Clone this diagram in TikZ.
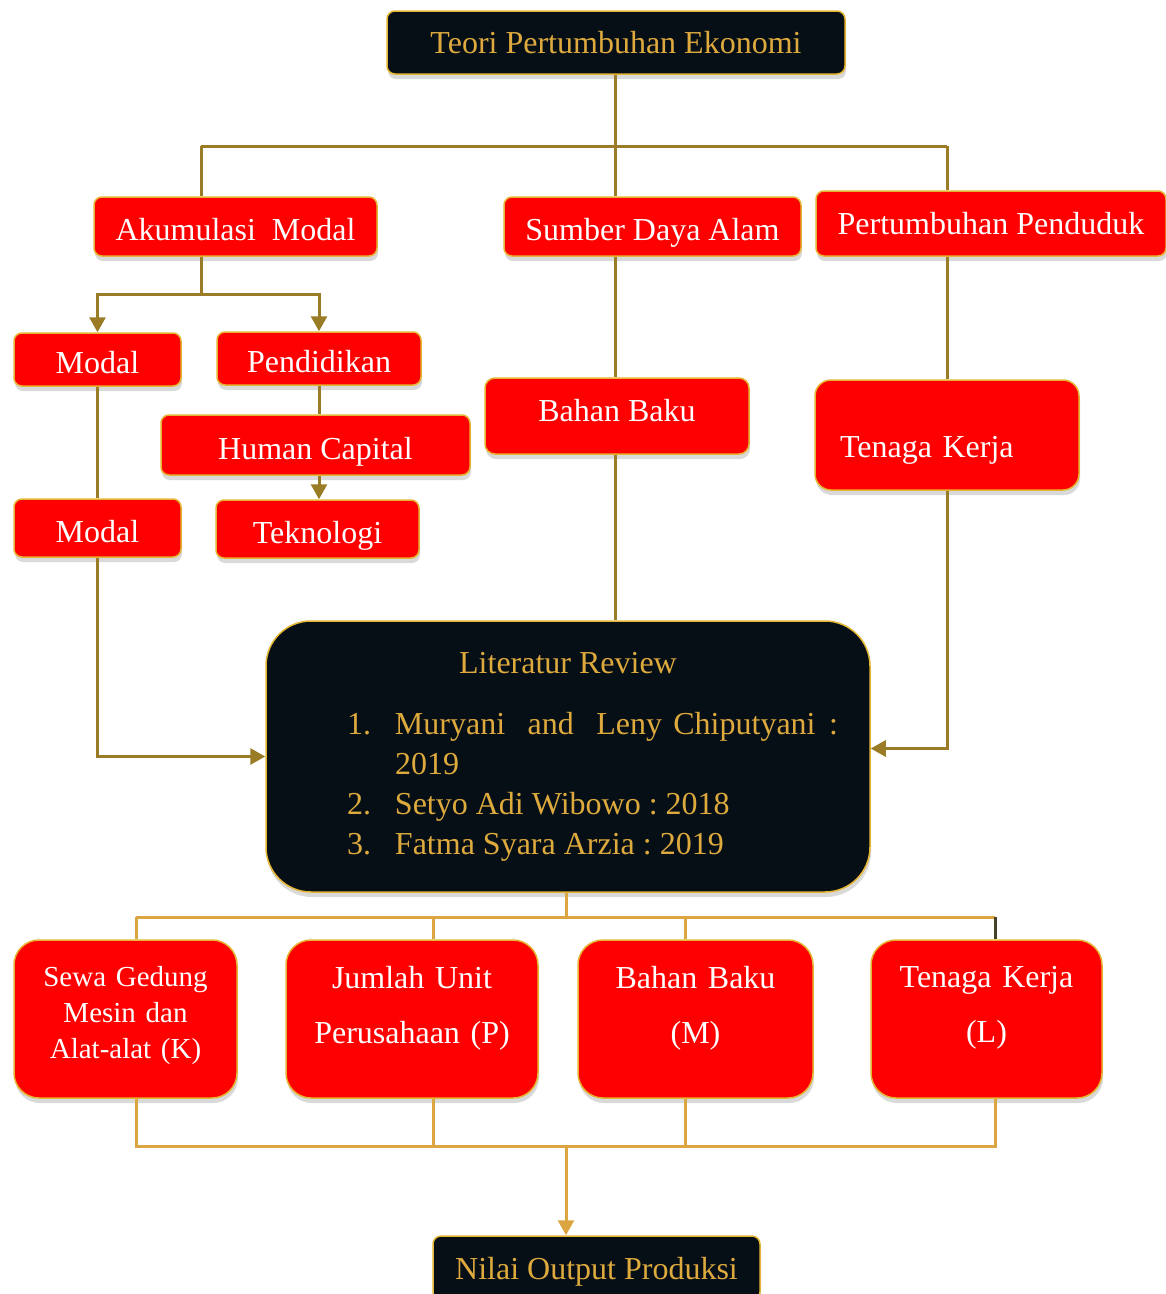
\documentclass[tikz,border=0pt]{standalone}
\usepackage{fontspec}
\setmainfont{Liberation Serif}
\usetikzlibrary{arrows.meta,shadows}

\definecolor{redbox}{RGB}{254,0,0}
\definecolor{darkbox}{RGB}{6,15,22}
\definecolor{goldtext}{RGB}{222,170,62}
\definecolor{goldedge}{RGB}{228,180,50}
\definecolor{linkolive}{RGB}{155,124,38}
\definecolor{linkgold}{RGB}{219,166,65}
\definecolor{darkolive}{RGB}{70,66,40}

\begin{document}
\frenchspacing
\begin{tikzpicture}
	[x=1pt,y=-1pt,>={Triangle[length=15pt,width=16pt]},
		red node/.style={draw=goldedge,line width=1.5pt,fill=redbox,text=white,rounded corners=8pt,inner sep=0pt,
			font=\fontsize{32}{38}\selectfont,drop shadow={shadow xshift=1pt,shadow yshift=-5pt,opacity=.3}},
		dark node/.style={red node,draw=goldedge,fill=darkbox,text=goldtext},
		low text/.style={text height=31pt,text depth=3pt},
		up line/.style={draw=linkolive,line width=3pt},
		low line/.style={draw=linkgold,line width=3pt}]

	\useasboundingbox (0,0) rectangle (1166,1294);

	% top level
	\node[dark node,minimum width=458pt,minimum height=63pt] (teori) at (616,42.5) {Teori Pertumbuhan Ekonomi};
	\node[red node,low text,minimum width=283pt,minimum height=59pt] (akum) at (235.5,226.5) {Akumulasi\ \ Modal};
	\node[red node,low text,minimum width=297pt,minimum height=59pt] (sda) at (652.5,226.5) {Sumber Daya Alam};
	\node[red node,minimum width=350pt,minimum height=65pt] (pend) at (991,223.5) {Pertumbuhan Penduduk};

	% factors
	\node[red node,low text,minimum width=167pt,minimum height=53pt] (modalA) at (97.5,359.5) {Modal};
	\node[red node,low text,minimum width=204pt,minimum height=53pt] (pddk) at (319,358.5) {Pendidikan};
	\node[red node,low text,minimum width=309pt,minimum height=60pt] (human) at (315.5,445) {Human Capital};
	\node[red node,low text,minimum width=203pt,minimum height=58pt] (tekno) at (317.5,529) {Teknologi};
	\node[red node,low text,minimum width=167pt,minimum height=58pt] (modalB) at (97.5,528) {Modal};
	\node[red node,minimum width=264pt,minimum height=76pt,rounded corners=10pt,text depth=12pt] (bahan) at (617,416) {Bahan Baku};
	\node[red node,minimum width=264pt,minimum height=110pt,rounded corners=16pt,text width=214pt,align=left,
		text height=50pt,text depth=6pt] (tenaga) at (947,435) {Tenaga Kerja};

	% review
	\node[dark node,minimum width=604pt,minimum height=271pt,rounded corners=45pt,text width=560pt,align=flush left,
		font=\fontsize{32}{40}\selectfont] (lit) at (568,756.5) {%
		\makebox[560pt]{Literatur Review}\\[21pt]
		\hspace*{59pt}\makebox[48pt][l]{1.}\makebox[443pt][l]{Muryani\hspace{\stretch{2}}and\hspace{\stretch{2}}Leny\hspace{\stretch{1}}Chiputyani\hspace{\stretch{1.2}}:}\\
		\hspace*{107pt}\mbox{2019}\\
		\hspace*{59pt}\makebox[48pt][l]{2.}\mbox{Setyo Adi Wibowo : 2018}\\
		\hspace*{59pt}\makebox[48pt][l]{3.}\mbox{Fatma Syara Arzia : 2019}};

	% inputs
	\node[red node,minimum width=223pt,minimum height=158pt,rounded corners=25pt,text width=215pt,align=center,
		font=\fontsize{29}{36}\selectfont,text depth=86pt] (kbox) at (125.5,1019) {Sewa Gedung\\Mesin dan\\Alat-alat (K)};
	\node[red node,minimum width=252pt,minimum height=158pt,rounded corners=25pt,text width=240pt,align=center,
		font=\fontsize{32}{55}\selectfont,text depth=84pt] (pbox) at (412,1019) {Jumlah Unit\\Perusahaan (P)};
	\node[red node,minimum width=235pt,minimum height=158pt,rounded corners=25pt,text width=225pt,align=center,
		font=\fontsize{32}{55}\selectfont,text depth=84pt] (mbox) at (695.5,1019) {Bahan Baku\\(M)};
	\node[red node,minimum width=231pt,minimum height=158pt,rounded corners=25pt,text width=225pt,align=center,
		font=\fontsize{32}{55}\selectfont,text depth=84pt] (lbox) at (986.5,1019) {Tenaga Kerja\\(L)};

	\node[dark node,minimum width=327pt,minimum height=64pt,text height=30pt,text depth=7pt] (nilai) at (596.5,1268) {Nilai Output Produksi};

	% upper connectors
	\coordinate (jL) at (201,146);
	\coordinate (jM) at (615,146);
	\coordinate (jR) at (947,146);
	\coordinate (jA) at (201,294);

	\draw[up line] (teori.south -| jM) -- (jM);
	\draw[up line] (jL) -- (jR);
	\draw[up line] (jL) -- (jL |- akum.north);
	\draw[up line] (jM) -- (jM |- sda.north);
	\draw[up line] (jR) -- (jR |- pend.north);
	\draw[up line] (jL |- akum.south) -- (jA);
	\draw[up line,->] (jA) -| (modalA.north);
	\draw[up line,->] (jA) -| (pddk.north);
	\draw[up line] (pddk.south) -- (pddk.south |- human.north);
	\draw[up line,->] (pddk.south |- human.south) -- (pddk.south |- tekno.north);
	\draw[up line] (modalA.south) -- (modalB.north);
	\draw[up line,->] (modalB.south) |- (lit.west);
	\draw[up line] (jM |- sda.south) -- (jM |- bahan.north);
	\draw[up line] (jM |- bahan.south) -- (jM |- lit.north);
	\draw[up line] (pend.south -| jR) -- (tenaga.north);
	\draw[up line,->] (tenaga.south) |- ([yshift=8pt]lit.east);

	% lower connectors
	\coordinate (bT) at (566,917);
	\coordinate (bB) at (566,1146);
	\coordinate (xK) at (136,0);
	\coordinate (xP) at (433,0);
	\coordinate (xM) at (685,0);
	\coordinate (xL) at (995,0);

	\draw[low line] (lit.south -| bT) -- (bT);
	\draw[low line] (xK |- bT) -- (xL |- bT);
	\draw[low line] (xK |- bT) -- (xK |- kbox.north);
	\draw[low line] (xP |- bT) -- (xP |- pbox.north);
	\draw[low line] (xM |- bT) -- (xM |- mbox.north);
	\draw[low line,draw=darkolive] (xL |- bT) -- (xL |- lbox.north);
	\draw[low line] (xK |- kbox.south) -- (xK |- bB) -- (xL |- bB) -- (xL |- lbox.south);
	\draw[low line] (xP |- pbox.south) -- (xP |- bB);
	\draw[low line] (xM |- mbox.south) -- (xM |- bB);
	\draw[low line,->] (bB) -- (bB |- nilai.north);

\end{tikzpicture}
\end{document}
